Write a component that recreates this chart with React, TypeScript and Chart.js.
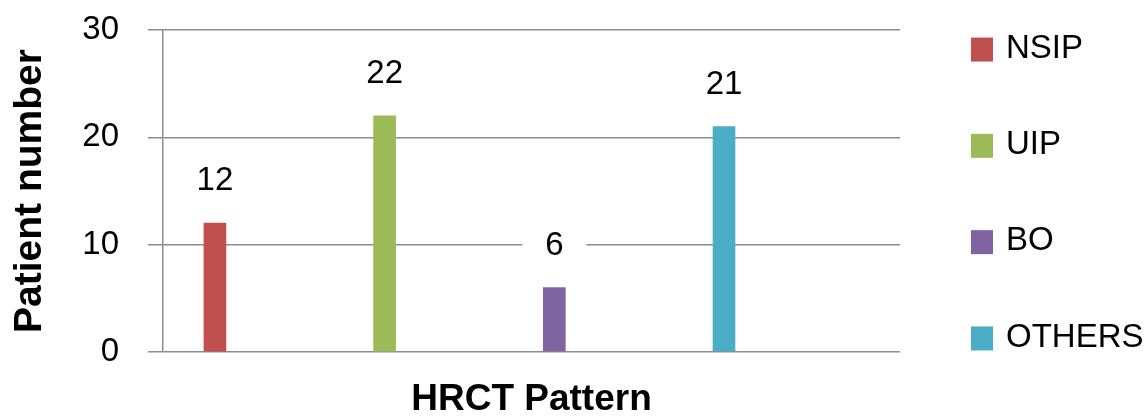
import React, { useEffect, useRef } from 'react';
import { Chart, registerables } from 'chart.js';

Chart.register(...registerables);

const categories = ['NSIP', 'UIP', 'BO', 'OTHERS'];
const patientCounts = [12, 22, 6, 21];
const barPositions = [1, 2, 3, 4];
const seriesColors = ['#C0504D', '#9BBB59', '#8064A2', '#4BACC6'];
const yTicks = [0, 10, 20, 30];
const yAxisTitle = 'Patient number';
const xAxisTitle = 'HRCT Pattern';

const FONT = '"Liberation Sans", Arial, Helvetica, sans-serif';
const GRID = '#8c8c8c';

const valueLabels = {
  id: 'valueLabels',
  afterDatasetsDraw(chart: any) {
    const ctx = chart.ctx;
    ctx.save();
    ctx.font = `33px ${FONT}`;
    ctx.textAlign = 'center';
    ctx.textBaseline = 'middle';
    chart.data.datasets.forEach((ds: any, i: number) => {
      const meta = chart.getDatasetMeta(i);
      meta.data.forEach((el: any, j: number) => {
        const v = ds.data[j].y;
        const x = el.x;
        const y = el.y - 42;
        ctx.fillStyle = '#ffffff';
        ctx.fillRect(x - 32, y - 15, 64, 30);
        ctx.fillStyle = '#000000';
        ctx.fillText(String(v), x, y);
      });
    });
    ctx.restore();
  },
};

const sideLegend = {
  id: 'sideLegend',
  afterDraw(chart: any) {
    const { ctx, chartArea } = chart;
    const items = chart.data.datasets;
    const n = items.length;
    const x0 = chartArea.right + 71;
    const mid = (chartArea.top + chartArea.bottom) / 2 + 3;
    const step = 96.3;
    ctx.save();
    ctx.font = `33px ${FONT}`;
    ctx.textBaseline = 'middle';
    ctx.textAlign = 'left';
    items.forEach((ds: any, i: number) => {
      const cy = mid + (i - (n - 1) / 2) * step;
      ctx.fillStyle = ds.backgroundColor;
      ctx.fillRect(x0, cy - 12, 22, 24);
      ctx.fillStyle = '#000000';
      ctx.fillText(ds.label, x0 + 35, cy - 1);
    });
    ctx.restore();
  },
};

export default function App() {
  const canvasRef = useRef<HTMLCanvasElement | null>(null);

  useEffect(() => {
    document.body.style.margin = '0';
    const canvas = canvasRef.current;
    if (!canvas) return;
    const chart = new Chart(canvas, {
      type: 'bar',
      data: {
        datasets: categories.map((label, i) => ({
          label,
          data: [{ x: barPositions[i], y: patientCounts[i] }],
          backgroundColor: seriesColors[i],
          borderWidth: 0,
          barThickness: 22,
          grouped: false,
        })),
      },
      options: {
        animation: false,
        responsive: false,
        devicePixelRatio: 1,
        layout: { padding: { left: 0, right: 245, top: 30, bottom: 0 } },
        plugins: {
          legend: { display: false },
          tooltip: { enabled: false },
        },
        scales: {
          x: {
            type: 'linear',
            offset: false,
            min: 0.694,
            max: 5.037,
            ticks: { display: false },
            grid: { display: false },
            border: { display: false },
            title: {
              display: true,
              text: xAxisTitle,
              color: '#000000',
              font: { family: FONT, size: 37, weight: 'bold', lineHeight: 0.95 },
              padding: 0,
            },
            afterFit: (s: any) => {
              s.height = 65;
              s.paddingLeft = 0;
              s.paddingRight = 0;
            },
          },
          y: {
            min: 0,
            max: 30,
            afterBuildTicks: (s: any) => {
              s.ticks = yTicks.map((v) => ({ value: v }));
            },
            ticks: {
              color: '#000000',
              font: { family: FONT, size: 33 },
              padding: 29,
            },
            grid: { color: GRID, lineWidth: 1.5, tickLength: 15, drawTicks: true },
            border: { display: true, color: GRID, width: 1.5 },
            title: {
              display: true,
              text: yAxisTitle,
              color: '#000000',
              font: { family: FONT, size: 39, weight: 'bold' },
              padding: { top: 7, bottom: 0 },
            },
            afterFit: (s: any) => {
              s.width = 163;
              s.paddingTop = 0;
              s.paddingBottom = 0;
            },
          },
        },
      } as any,
      plugins: [valueLabels, sideLegend],
    });
    return () => chart.destroy();
  }, []);

  return (
    <div style={{ width: 1145, height: 417 }}>
      <canvas ref={canvasRef} width={1145} height={417} style={{ display: 'block' }} />
    </div>
  );
}
